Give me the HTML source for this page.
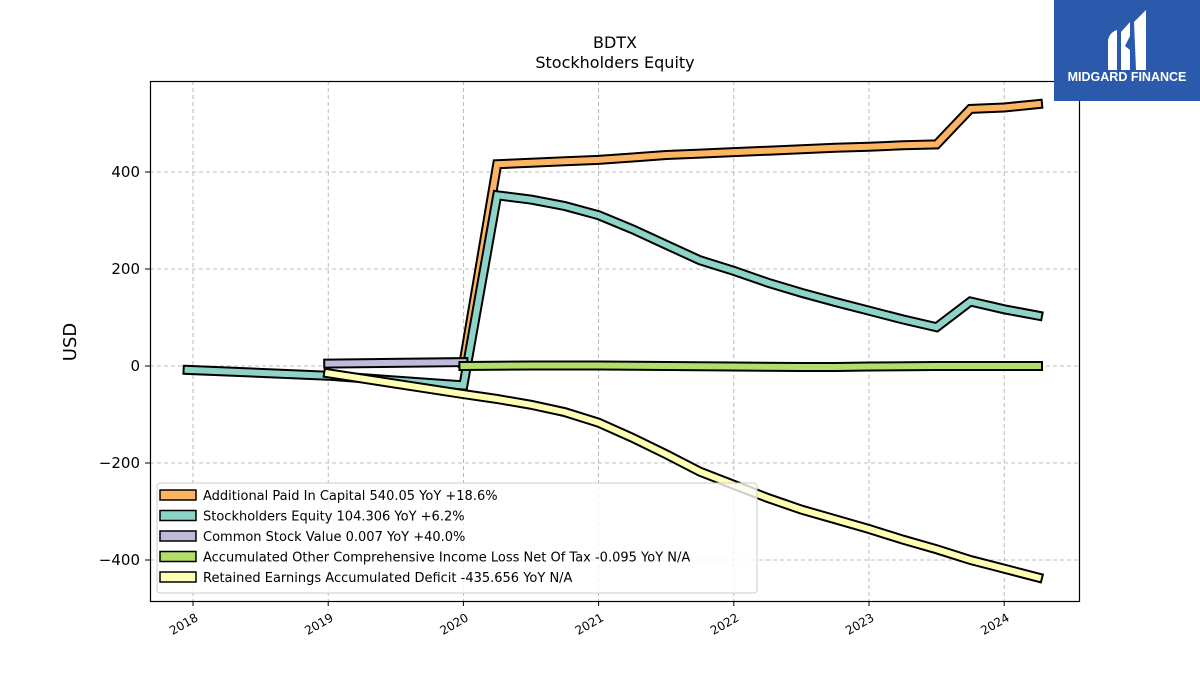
<!DOCTYPE html>
<html><head><meta charset="utf-8"><style>
body{margin:0;background:#fff;font-family:"Liberation Sans","DejaVu Sans",sans-serif;}
svg text{font-family:"DejaVu Sans","Liberation Sans",sans-serif;}
</style></head><body>
<svg id="chart" width="1200" height="675" xmlns="http://www.w3.org/2000/svg">
<rect width="1200" height="675" fill="#fff"/>
<text x="615" y="48" text-anchor="middle" font-size="16">BDTX</text>
<text x="615" y="68" text-anchor="middle" font-size="16">Stockholders  Equity</text>
<g id="grid"></g>
<g id="series"></g>
<rect x="150.5" y="81.5" width="929" height="520" fill="none" stroke="#000" stroke-width="1.2"/>
<g id="axes"></g>
<text transform="translate(76,342) rotate(-90)" text-anchor="middle" font-size="18">USD</text>
<g>
<rect x="157" y="483" width="600" height="110" rx="3" fill="#fff" fill-opacity="0.8" stroke="#ccc"/>
<g id="legend"></g>
</g>
<g>
<rect x="1054" y="0" width="146" height="101" fill="#2b5aad"/>
<path d="M1108 40 Q1110 32 1117 30 L1117 70 L1108 70 Z M1121 32 L1130 22 L1130 36 L1125 46 L1130 50 L1130 70 L1121 70 Z M1134 22 L1146 10 L1146 70 L1136 70 Z" fill="#fff"/>
<text x="1127" y="81" text-anchor="middle" font-size="12.5" font-weight="bold" fill="#fff" style="font-family:'Liberation Sans',sans-serif">MIDGARD FINANCE</text>
</g>
</svg>
<script>
const apicX=[2020.0,2020.25,2020.5,2020.75,2021,2021.25,2021.5,2021.75,2022,2022.25,2022.5,2022.75,2023,2023.25,2023.5,2023.75,2024,2024.25];
const apicY=[5,416,419,422,425,430,435,438,441,444,447,450,452,455,457,530,533,540];
const seX=[2017.96,2019,2020,2020.25,2020.5,2020.75,2021,2021.25,2021.5,2021.75,2022,2022.25,2022.5,2022.75,2023,2023.25,2023.5,2023.75,2024,2024.25];
const seY=[-8,-20,-40,352,343,330,311,282,250,218,196,172,151,132,114,96,80,133,117,104];
const csX=[2019,2020];
const csY=[5,8];
const aociX=[2020,2020.5,2021,2021.5,2022,2022.5,2022.75,2023,2023.5,2024,2024.25];
const aociY=[0,1,1,0,-1,-2,-2,-1,0,0,0];
const reX=[2019,2020,2020.25,2020.5,2020.75,2021,2021.25,2021.5,2021.75,2022,2022.25,2022.5,2022.75,2023,2023.25,2023.5,2023.75,2024,2024.25];
const reY=[-15,-58,-68,-80,-95,-117,-148,-182,-218,-245,-272,-296,-316,-336,-358,-378,-400,-418,-436];
const yTicks=[-400,-200,0,200,400];
const xTicks=[2018,2019,2020,2021,2022,2023,2024];
const legendLabels=["Additional Paid In Capital  540.05 YoY +18.6%","Stockholders Equity  104.306 YoY +6.2%","Common Stock Value  0.007 YoY +40.0%","Accumulated Other Comprehensive Income Loss Net Of Tax  -0.095 YoY N/A","Retained Earnings Accumulated Deficit  -435.656 YoY N/A"];
const colors=["#fdb462","#8dd3c7","#bebada","#b3de69","#ffffb3"];
const NS="http://www.w3.org/2000/svg";
const sx=v=>193+(v-2018)*135.2;
const sy=v=>366-v*0.485;
function mk(t,a,p){const e=document.createElementNS(NS,t);for(const k in a)e.setAttribute(k,a[k]);p.appendChild(e);return e;}
const grid=document.getElementById('grid'),axes=document.getElementById('axes');
yTicks.forEach(v=>{
 const l=mk('line',{x1:150,x2:1079,y1:sy(v),y2:sy(v),stroke:'#aaa','stroke-dasharray':'4,3','stroke-width':0.8},grid);
 
 
 mk('line',{x1:145,x2:150,y1:sy(v),y2:sy(v),stroke:'#000'},axes);
 const t=mk('text',{x:140,y:sy(v)+5,'text-anchor':'end','font-size':15},axes);
 t.textContent=v<0?'\u2212'+Math.abs(v):String(v);
 
 
});
xTicks.forEach(v=>{
 const l=mk('line',{x1:sx(v),x2:sx(v),y1:81,y2:601,stroke:'#aaa','stroke-dasharray':'4,3','stroke-width':0.8},grid);
 
 
 mk('line',{x1:sx(v),x2:sx(v),y1:601,y2:606,stroke:'#000'},axes);
 const t=mk('text',{transform:`translate(${sx(v)+6},${620}) rotate(-30)`,'text-anchor':'end','font-size':12},axes);
 t.textContent=String(v);
 
 
});
const ser=document.getElementById('series');
const all=[[apicX,apicY],[seX,seY],[csX,csY],[aociX,aociY],[reX,reY]];
const names=['additional-paid-in-capital-line','stockholders-equity-line','common-stock-value-line','aoci-line','retained-earnings-line'];
all.forEach((s,i)=>{
 const pts=s[0].map((x,j)=>sx(x).toFixed(1)+','+sy(s[1][j]).toFixed(1)).join(' ');
 const g=mk('g',{},ser);
 
 
 mk('polyline',{points:pts,fill:'none',stroke:'#000','stroke-width':10,'stroke-linejoin':'miter','stroke-linecap':'square'},g);
 mk('polyline',{points:pts,fill:'none',stroke:colors[i],'stroke-width':6,'stroke-linejoin':'miter','stroke-linecap':'square'},g);
});
const lg=document.getElementById('legend');
legendLabels.forEach((t,i)=>{
 const y=495+i*20.5;
 const r=mk('rect',{x:160,y:y-5,width:36,height:10,fill:colors[i],stroke:'#000','stroke-width':1.5},lg);
 
 
 const tx=mk('text',{x:203,y:y+5,'font-size':13},lg);
 tx.textContent=t;
 
 
});
</script>
</body></html>
